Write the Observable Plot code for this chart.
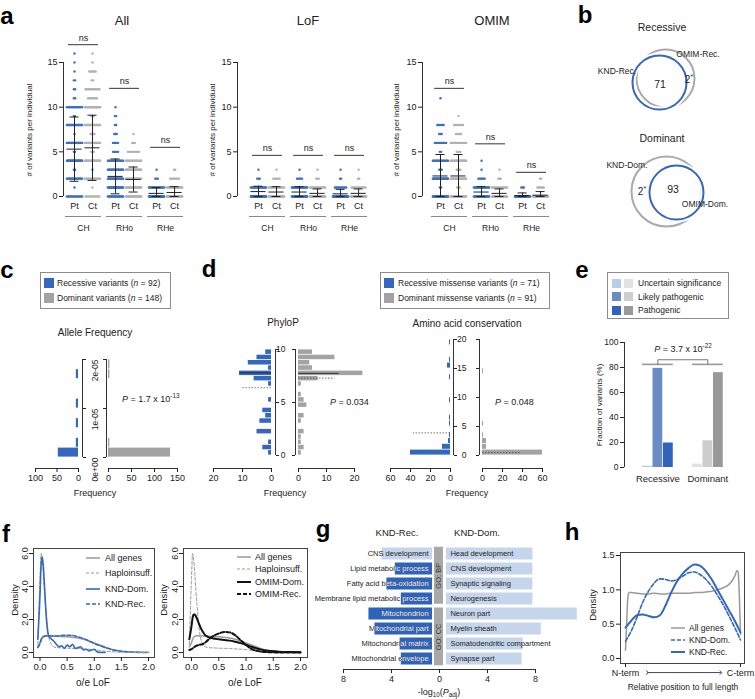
<!DOCTYPE html>
<html><head><meta charset="utf-8">
<script src="https://cdn.jsdelivr.net/npm/d3@7"></script>
<script src="https://cdn.jsdelivr.net/npm/@observablehq/plot@0.6"></script>
<style>
html,body{margin:0;padding:0;background:#fff;}
#fig{position:relative;width:755px;height:699px;overflow:hidden;background:#fff;font-family:"Liberation Sans",Arial,sans-serif;color:#222;}
sup,sub{font-size:70%;line-height:0;}
</style></head>
<body><div id="fig"></div>
<script>
// ================= DATA =================
// Panel a: counts of individuals per number of variants (index = # variants)
const aGroups = ["CH", "RHo", "RHe"];
const aSides = ["Pt", "Ct"];
const aYTicks = [0, 5, 10, 15];
const allCH_Pt = [15,1,22,2,30,2,26,1,20,2,18,2,2,2,1,1,1];
const allCH_Ct = [12,1,18,2,25,3,24,4,24,3,26,8,12,2,6,1,1];
const allRHo_Pt = [20,28,30,22,16,5,5,3,2,2,1];
const allRHo_Ct = [22,26,28,25,18,10,3,1];
const allRHe_Pt = [45,18,3,1];
const allRHe_Ct = [30,22,8,2];
const allMean = [5.3,5.45,2.25,1.9,0.35,0.45];
const allSD = [3.6,3.65,1.95,1.4,0.65,0.65];
const allNs = [17.0,12.1,5.5];

const lofCH_Pt = [40,20,3,1];
const lofCH_Ct = [35,18,6,1];
const lofRHo_Pt = [38,22,5,1];
const lofRHo_Ct = [32,16,3,1];
const lofRHe_Pt = [50,10,2,1];
const lofRHe_Ct = [30,12,2,1];
const lofMean = [0.55,0.5,0.5,0.35,0.3,0.35];
const lofSD = [0.6,0.6,0.6,0.5,0.5,0.5];
const lofNs = [4.6,4.6,4.6];

const omimCH_Pt = [30,2,30,3,18,2,10,3,6,0,0,1];
const omimCH_Ct = [28,3,28,4,25,4,14,5,8,1];
const omimRHo_Pt = [25,20,6,1,1];
const omimRHo_Ct = [28,14,3,1];
const omimRHe_Pt = [30,3];
const omimRHe_Ct = [30,6,2];
const omimMean = [2.3,2.3,0.5,0.35,0.1,0.15];
const omimSD = [2.4,2.4,0.6,0.5,0.3,0.4];
const omimNs = [12.1,5.9,2.7];

// Panel b: Venn counts
const vennRec = {shared: 71, only: 2};
const vennDom = {shared: 93, only: 2};

// Panel c: allele frequency histogram (bins of 2e-6)
const afBinW = 2e-6;
const afRec = [47,5,0,5,0,5,0,0,5,0];
const afDom = [135,3,0,0,0,0,0,0,3,3];
const afTicks = [0, 1e-5, 2e-5];
const afTickLabels = ["0e+00", "1e-05", "2e-05"];

// Panel d: PhyloP (bins of 0.5) and amino acid conservation (bins of 1)
const phyloBinW = 0.5;
const phyloRec = [1,3,1,0,5,0,4,2,3,0,1,0,0,1,6,11,1,8,5,2];
const phyloDom = [1,2,1,1,2,0,1,2,0,3,2,1,0,1,7,23,5,4,13,5];
const phyloRecStats = [7.8, 6.4];   // median, mean
const phyloDomStats = [7.75, 7.3];
const aaBinW = 1;
const aaRec = [40,8,2,1,0,1,1,0,0,1,0,0,0,1,0,3,1,0,0,1];
const aaDom = [60,4,4,1,0,1,0,0,0,0,0,0,0,0,1,0,0,0,0,0];
const aaRecMean = 3.9;
const aaDomMean = 0.5;

// Panel e
const eClasses = ["Uncertain significance", "Likely pathogenic", "Pathogenic"];
const eGroups = ["Recessive", "Dominant"];
const eRec = [1.1, 79.3, 19.6];
const eDom = [2.7, 21.4, 75.9];

// Panel f: density of o/e LoF
const fX = [-0.04,0,0.02,0.04,0.06,0.08,0.1,0.13,0.16,0.2,0.25,0.3,0.4,0.5,0.6,0.7,0.8,0.9,1.0,1.1,1.2,1.3,1.4,1.5,1.6,1.8,2.0];
const fAll = [0.35,0.6,0.8,0.92,0.98,1.0,1.01,1.01,1.0,1.0,0.99,0.98,0.97,0.95,0.92,0.88,0.8,0.7,0.58,0.45,0.33,0.22,0.14,0.08,0.05,0.02,0.01];
const fHaplo = [0.5,4.5,6.0,5.6,4.8,3.8,2.9,1.8,1.0,0.55,0.35,0.3,0.28,0.26,0.25,0.24,0.22,0.2,0.17,0.12,0.08,0.05,0.03,0.02,0.01,0,0];
const fKndRec = [0.3,0.55,0.75,0.88,0.95,0.98,1.0,1.0,1.0,1.0,1.0,1.0,1.03,1.05,1.03,0.95,0.85,0.7,0.55,0.42,0.3,0.2,0.12,0.07,0.04,0.01,0];
const fOmimDom = [0.8,1.6,2.1,2.3,2.3,2.2,2.05,1.8,1.55,1.3,1.05,0.95,0.85,0.8,0.76,0.72,0.65,0.57,0.47,0.35,0.24,0.16,0.11,0.08,0.05,0.03,0.02];
const fOmimRec = [0.15,0.2,0.25,0.3,0.35,0.4,0.42,0.45,0.48,0.5,0.6,0.75,1.0,1.15,1.25,1.22,1.05,0.75,0.45,0.22,0.1,0.05,0.02,0.01,0,0,0];
const fDomX = [-0.04,0,0.02,0.04,0.06,0.08,0.1,0.13,0.16,0.2,0.25,0.3,0.35,0.4,0.45,0.5,0.55,0.6,0.65,0.7,0.75,0.8,0.85,0.9,0.95,1.0,1.05,1.1,1.2];
const fKndDom = [0.8,3.5,5.3,5.8,5.3,4.2,3.0,1.6,1.0,0.85,0.7,0.5,0.35,0.4,0.25,0.45,0.35,0.5,0.25,0.3,0.35,0.15,0.2,0.1,0.15,0.2,0.05,0.01,0];
const fXTicks = [0, 0.5, 1, 1.5, 2];
const fYTicks = [0, 2, 4, 6];

// Panel g: GO enrichment (-log10 Padj)
const gRecTerms = ["CNS development","Lipid metabolic process","Fatty acid beta-oxidation","Membrane lipid metabolic process","Mitochondrion","Mitochondrial part","Mitochondrial matrix","Mitochondrial envelope"];
const gRecVals = [4.2, 3.1, 3.8, 2.6, 5.3, 4.8, 2.7, 2.6];
const gRecSig = [false, true, true, true, true, true, true, true];
const gDomTerms = ["Head development","CNS development","Synaptic signaling","Neurogenesis","Neuron part","Myelin sheath","Somatodendritic compartment","Synapse part"];
const gDomVals = [7.2, 7.2, 7.2, 7.2, 10.9, 7.9, 6.4, 6.3];
const gGO = ["GO: BP", "GO: CC"];

// Panel h: density along protein
const hX = [0,0.01,0.02,0.03,0.05,0.1,0.15,0.2,0.25,0.3,0.35,0.4,0.45,0.5,0.55,0.6,0.65,0.7,0.75,0.8,0.85,0.9,0.93,0.95,0.97,0.98,0.99,1.0];
const hAll = [0.12,0.5,0.88,0.96,0.96,0.95,0.94,0.94,0.95,0.94,0.94,0.95,0.95,0.95,0.95,0.96,0.96,0.97,0.98,1.0,1.03,1.08,1.14,1.2,1.28,1.25,0.9,0.35];
const hX2 = [0,0.05,0.1,0.15,0.2,0.25,0.3,0.35,0.4,0.45,0.5,0.55,0.6,0.65,0.7,0.75,0.8,0.85,0.9,0.95,1.0];
const hDom = [0.25,0.4,0.6,0.82,0.98,1.1,1.16,1.15,1.13,1.15,1.2,1.25,1.26,1.22,1.15,1.05,0.92,0.78,0.62,0.45,0.27];
const hRec = [0.45,0.55,0.63,0.64,0.62,0.6,0.63,0.78,0.97,1.13,1.24,1.32,1.37,1.35,1.27,1.15,1.0,0.85,0.7,0.55,0.38];

// ================= HELPERS =================
const FONT = '"Liberation Sans", Arial, Helvetica, sans-serif';
const BLUE = "#3467bd";
const BLUE_DOT = "#3d70c1";
const GRAY_DOT = "#b2b2b2";
const GRAY = "#a3a3a3";
const DARK = "#333";
const NS = "http://www.w3.org/2000/svg";
const fig = document.getElementById("fig");

function addPlot(opts) {
  const svg = Plot.plot(Object.assign({
    width: 755, height: 699,
    style: {background: "transparent", fontFamily: FONT, fontSize: "9px", color: "#222", overflow: "visible"}
  }, opts));
  svg.style.position = "absolute"; svg.style.left = "0px"; svg.style.top = "0px";
  svg.style.maxWidth = "none";
  fig.appendChild(svg);
  return svg;
}
function label(html, x, y, o = {}) {
  const d = document.createElement("div");
  d.innerHTML = html;
  const ax = o.align === "left" ? "0%" : o.align === "right" ? "-100%" : "-50%";
  const s = d.style;
  s.position = "absolute"; s.left = x + "px"; s.top = y + "px";
  s.fontSize = (o.size || 9) + "px"; s.lineHeight = "1"; s.whiteSpace = "nowrap";
  s.fontFamily = FONT; s.color = o.color || "#222";
  if (o.weight) s.fontWeight = o.weight;
  s.transform = `translate(${ax},-50%)` + (o.rot ? ` rotate(${o.rot}deg)` : "");
  fig.appendChild(d);
  return d;
}
function box(x, y, w, h) {
  const d = document.createElement("div");
  Object.assign(d.style, {position: "absolute", left: x + "px", top: y + "px", width: w + "px", height: h + "px", border: "1px solid #8c8c8c", boxSizing: "border-box"});
  fig.appendChild(d);
}
function swatch(x, y, s, color) {
  const d = document.createElement("div");
  Object.assign(d.style, {position: "absolute", left: x + "px", top: (y - s / 2) + "px", width: s + "px", height: s + "px", background: color});
  fig.appendChild(d);
}
function lineSwatch(x1, x2, y, color, w, dash) {
  const svg = document.createElementNS(NS, "svg");
  svg.setAttribute("width", x2 - x1); svg.setAttribute("height", 8);
  svg.style.position = "absolute"; svg.style.left = x1 + "px"; svg.style.top = (y - 4) + "px"; svg.style.overflow = "visible";
  const l = document.createElementNS(NS, "line");
  l.setAttribute("x1", 0); l.setAttribute("x2", x2 - x1); l.setAttribute("y1", 4); l.setAttribute("y2", 4);
  l.setAttribute("stroke", color); l.setAttribute("stroke-width", w);
  if (dash) l.setAttribute("stroke-dasharray", dash);
  svg.appendChild(l);
  fig.appendChild(svg);
}

// ================= PANEL A =================
const aSlots = [0, 1, 2.28, 3.28, 4.56, 5.56];
const APX = 18;
function panelA(title, counts, mean, sd, ns, axisX, pt0, titleX, yLabX) {
  const dotsPt = [], dotsCt = [];
  counts.forEach((arr, j) => {
    const target = j % 2 === 0 ? dotsPt : dotsCt;
    arr.forEach((n, v) => {
      const step = n > 1 ? Math.min(0.07, 0.85 / (n - 1)) : 0;
      for (let k = 0; k < n; k++) target.push({x: aSlots[j] + (k - (n - 1) / 2) * step, v});
    });
  });
  const stats = mean.map((m, j) => ({x: aSlots[j], m, lo: Math.max(0, m - sd[j]), hi: m + sd[j]}));
  const grp = aGroups.map((c, g) => ({c, a: aSlots[2 * g], b: aSlots[2 * g + 1], mid: (aSlots[2 * g] + aSlots[2 * g + 1]) / 2, ns: ns[g]}));
  const cats = aSlots.map((x, j) => ({x, t: aSides[j % 2]}));
  const axisSlot = (axisX - pt0) / APX;
  addPlot({
    marginLeft: axisX, marginRight: 755 - axisX - 140, marginTop: 60, marginBottom: 699 - 196,
    x: {domain: [0, 1], range: [pt0, pt0 + APX], axis: null},
    y: {domain: [0, 15], range: [196, 62], axis: null},
    marks: [
      Plot.ruleX([axisSlot], {y1: 0, y2: 15, stroke: DARK}),
      Plot.axisY({ticks: aYTicks, tickSize: 4, tickPadding: 2, label: null, fontSize: 9}),
      Plot.dot(dotsPt, {x: "x", y: "v", r: 1.2, fill: BLUE_DOT}),
      Plot.dot(dotsCt, {x: "x", y: "v", r: 1.2, fill: GRAY_DOT}),
      Plot.ruleX(stats, {x: "x", y1: "lo", y2: "hi", stroke: "#222"}),
      Plot.ruleY(stats, {y: "m", x1: d => d.x - 0.42, x2: d => d.x + 0.42, stroke: "#222"}),
      Plot.ruleY(stats, {y: "lo", x1: d => d.x - 0.25, x2: d => d.x + 0.25, stroke: "#222"}),
      Plot.ruleY(stats, {y: "hi", x1: d => d.x - 0.25, x2: d => d.x + 0.25, stroke: "#222"}),
      Plot.ruleY(grp, {y: "ns", x1: d => d.mid - 0.83, x2: d => d.mid + 0.83, stroke: "#555", strokeWidth: 1.2}),
      Plot.text(grp, {x: "mid", y: "ns", text: () => "ns", dy: -7, fontSize: 9}),
      Plot.text(cats, {x: "x", y: 0, text: "t", dy: 10, fontSize: 9}),
      Plot.ruleY(grp, {y: 0, x1: d => d.a - 0.5, x2: d => d.b + 0.5, dy: 20, stroke: "#888", strokeWidth: 1.2}),
      Plot.text(grp, {x: "mid", y: 0, text: "c", dy: 32, fontSize: 8.5})
    ]
  });
  label(title, titleX, 20, {size: 13});
  label("# of variants per individual", yLabX, 130, {size: 8, rot: -90});
}
panelA("All", [allCH_Pt, allCH_Ct, allRHo_Pt, allRHo_Ct, allRHe_Pt, allRHe_Ct], allMean, allSD, allNs, 63, 74, 122, 30);
panelA("LoF", [lofCH_Pt, lofCH_Ct, lofRHo_Pt, lofRHo_Ct, lofRHe_Pt, lofRHe_Ct], lofMean, lofSD, lofNs, 237, 258, 308, 213);
panelA("OMIM", [omimCH_Pt, omimCH_Ct, omimRHo_Pt, omimRHo_Ct, omimRHe_Pt, omimRHe_Ct], omimMean, omimSD, omimNs, 422, 440, 492, 397);

// ================= PANEL B =================
const vennLayout = [
  {cx: 665, cy: 78, r: 29, c: GRAY}, {cx: 659, cy: 82, r: 27, c: BLUE},
  {cx: 666, cy: 191, r: 35, c: GRAY}, {cx: 676, cy: 192, r: 27, c: BLUE}
];
addPlot({
  marginLeft: 0, marginRight: 0, marginTop: 0, marginBottom: 0,
  x: {domain: [0, 755], range: [0, 755], axis: null},
  y: {domain: [0, 699], range: [0, 699], axis: null},
  marks: [
    ...vennLayout.filter(d => d.c === GRAY).map(d => Plot.dot([d], {x: "cx", y: "cy", r: d.r, stroke: "#aaaaaa", strokeWidth: 2, fill: "none"})),
    ...vennLayout.filter(d => d.c === BLUE).map(d => Plot.dot([d], {x: "cx", y: "cy", r: d.r, stroke: "white", strokeWidth: 6, fill: "none"})),
    ...vennLayout.filter(d => d.c === BLUE).map(d => Plot.dot([d], {x: "cx", y: "cy", r: d.r, stroke: BLUE, strokeWidth: 2, fill: "none"}))
  ]
});
label("Recessive", 662, 27, {size: 10.5});
label("OMIM-Rec.", 698, 54, {size: 8.5});
label("KND-Rec.", 617, 71, {size: 8.5});
label(String(vennRec.shared), 660, 84, {size: 10.5});
label(vennRec.only + "<sup>*</sup>", 689, 80, {size: 10});
label("Dominant", 662, 138, {size: 10.5});
label("KND-Dom.", 627, 165, {size: 8.5});
label(vennDom.only + "<sup>*</sup>", 642, 192, {size: 10});
label(String(vennDom.shared), 673, 189, {size: 10.5});
label("OMIM-Dom.", 705, 204, {size: 8.5});

// ================= PANELS C & D (mirrored histograms) =================
function mirror(o) {
  const bins = arr => arr.map((n, i) => ({lo: i * o.binW, hi: (i + 1) * o.binW, n})).filter(d => d.n > 0);
  const y0 = o.ticks[0], yTop = o.ticks[o.ticks.length - 1];
  const lineMarks = (lines) => lines.map(l => Plot.ruleY([l.y], {x1: 0, x2: l.len, stroke: l.color, strokeWidth: l.w, strokeDasharray: l.dash}));
  addPlot({
    marginLeft: o.L.end - 5, marginRight: 755 - o.L.axis, marginTop: o.yRange[1] - 5, marginBottom: 699 - o.bottomY,
    x: {domain: [0, o.L.max], range: [o.L.zero, o.L.end], axis: null},
    y: {domain: o.yDomain, range: o.yRange, axis: null},
    marks: [
      Plot.rect(bins(o.rec), {x1: 0, x2: "n", y1: "lo", y2: "hi", fill: BLUE, insetTop: 0.4, insetBottom: 0.4}),
      ...lineMarks(o.recLines || []),
      Plot.ruleX([0], {dx: o.L.axis - o.L.zero, y1: y0, y2: yTop, stroke: DARK}),
      Plot.axisY({anchor: "right", ticks: o.ticks, tickSize: 3, tickFormat: () => "", label: null}),
      Plot.text(o.ticks, {y: d => d, text: (d, i) => o.tickLabels[i], frameAnchor: "right", dx: o.labDx, rotate: o.rot, fontSize: 8.5}),
      Plot.ruleY([o.yDomain[0]], {x1: 0, x2: o.L.max, dy: o.bottomY - o.yRange[0], stroke: DARK}),
      Plot.axisX({anchor: "bottom", ticks: o.L.ticks, tickSize: 4, tickPadding: 2, label: null, fontSize: 9})
    ]
  });
  addPlot({
    marginLeft: o.R.axis, marginRight: 755 - o.R.end - 5, marginTop: o.yRange[1] - 5, marginBottom: 699 - o.bottomY,
    x: {domain: [0, o.R.max], range: [o.R.zero, o.R.end], axis: null},
    y: {domain: o.yDomain, range: o.yRange, axis: null},
    marks: [
      Plot.rect(bins(o.dom), {x1: 0, x2: "n", y1: "lo", y2: "hi", fill: GRAY, insetTop: 0.4, insetBottom: 0.4}),
      ...lineMarks(o.domLines || []),
      Plot.ruleX([0], {dx: o.R.axis - o.R.zero, y1: y0, y2: yTop, stroke: DARK}),
      Plot.axisY({anchor: "left", ticks: o.ticks, tickSize: 3, tickFormat: () => "", label: null}),
      Plot.ruleY([o.yDomain[0]], {x1: 0, x2: o.R.max, dy: o.bottomY - o.yRange[0], stroke: DARK}),
      Plot.axisX({anchor: "bottom", ticks: o.R.ticks, tickSize: 4, tickPadding: 2, label: null, fontSize: 9})
    ]
  });
}
// c: allele frequency
mirror({
  yDomain: [0, 2e-5], yRange: [457, 359], binW: afBinW, rec: afRec, dom: afDom,
  ticks: afTicks, tickLabels: afTickLabels, rot: -90, labDx: 13, bottomY: 468,
  L: {max: 100, zero: 78, end: 35, axis: 82, ticks: [0, 50, 100]},
  R: {max: 150, zero: 108, end: 177, axis: 106, ticks: [0, 50, 100, 150]}
});
// d: PhyloP
mirror({
  yDomain: [0, 10], yRange: [455, 349], binW: phyloBinW, rec: phyloRec, dom: phyloDom,
  ticks: [0, 5, 10], tickLabels: ["0", "5", "10"], rot: 0, labDx: 10, bottomY: 468,
  L: {max: 20, zero: 271, end: 213, axis: 275, ticks: [0, 10, 20]},
  R: {max: 20, zero: 298, end: 354, axis: 295, ticks: [0, 10, 20]},
  recLines: [{y: phyloRecStats[0], len: 11, color: "#222", w: 0.9}, {y: phyloRecStats[1], len: 10, color: "#777", w: 0.9, dash: "1.5,1.5"}],
  domLines: [{y: phyloDomStats[0], len: 14.5, color: "#222", w: 0.9}, {y: phyloDomStats[1], len: 13, color: "#555", w: 0.9, dash: "1.5,1.5"}]
});
// d: amino acid conservation
mirror({
  yDomain: [0, 20], yRange: [455, 339], binW: aaBinW, rec: aaRec, dom: aaDom,
  ticks: [0, 5, 10, 15, 20], tickLabels: ["0", "5", "10", "15", "20"], rot: 0, labDx: 13, bottomY: 468,
  L: {max: 60, zero: 450, end: 390, axis: 453, ticks: [0, 20, 40, 60]},
  R: {max: 60, zero: 482, end: 542, axis: 479, ticks: [0, 20, 40, 60]},
  recLines: [{y: aaRecMean, len: 37, color: "#666", w: 0.9, dash: "1.5,1.5"}],
  domLines: [{y: aaDomMean, len: 38, color: "#555", w: 0.9, dash: "1.5,1.5"}]
});
// legends & texts c, d
box(40, 272, 131, 37);
swatch(44, 283, 10, BLUE); label("Recessive variants (<i>n</i> = 92)", 57, 283, {align: "left", size: 8.5});
swatch(44, 298, 10, GRAY); label("Dominant variants (<i>n</i> = 148)", 57, 298, {align: "left", size: 8.5});
label("Allele Frequency", 95, 333, {size: 10});
label("<i>P</i> = 1.7 x 10<sup>-13</sup>", 122, 399, {align: "left", size: 9});
label("Frequency", 95, 493, {size: 9});
box(380, 272, 170, 37);
swatch(384, 283, 10, BLUE); label("Recessive missense variants (<i>n</i> = 71)", 398, 283, {align: "left", size: 8.5});
swatch(384, 298, 10, GRAY); label("Dominant missense variants (<i>n</i> = 91)", 398, 298, {align: "left", size: 8.5});
label("PhyloP", 283, 323, {size: 10});
label("Amino acid conservation", 467, 324, {size: 10});
label("<i>P</i> = 0.034", 330, 402, {align: "left", size: 9});
label("<i>P</i> = 0.048", 495, 402, {align: "left", size: 9});
label("Frequency", 285, 493, {size: 9});
label("Frequency", 467, 493, {size: 9});

// ================= PANEL E =================
const eBlue = ["#b9cde8", "#6a8cc3", "#2f63bd"];
const eGray = ["#e2e2e2", "#cdcdcd", "#999999"];
const eStep = 4.76;
const eAxis = (624 - 642) / 10.5;
const eMarks = [];
[eRec, eDom].forEach((vals, g) => {
  vals.forEach((v, i) => {
    const x1 = g * eStep + i;
    eMarks.push(Plot.rect([{x1, x2: x1 + 0.93, v}], {x1: "x1", x2: "x2", y1: 0, y2: "v", fill: (g === 0 ? eBlue : eGray)[i]}));
  });
});
const eGroupRows = eGroups.map((name, g) => ({name, a: g * eStep, b: g * eStep + 2.93, mid: g * eStep + 1.46}));
addPlot({
  marginLeft: 624, marginRight: 755 - 730, marginTop: 337, marginBottom: 699 - 467,
  x: {domain: [0, 1], range: [642, 652.5], axis: null},
  y: {domain: [0, 100], range: [467, 342], axis: null},
  marks: [
    Plot.ruleX([eAxis], {y1: 0, y2: 100, stroke: DARK}),
    Plot.axisY({ticks: [0, 20, 40, 60, 80, 100], tickSize: 4, tickPadding: 2, label: null, fontSize: 8.5}),
    ...eMarks,
    Plot.ruleY(eGroupRows, {y: 82.5, x1: "a", x2: "b", stroke: "#999", strokeWidth: 1.6}),
    Plot.line([{x: eGroupRows[0].mid, y: 82.5}, {x: eGroupRows[0].mid, y: 86.2}, {x: eGroupRows[1].mid, y: 86.2}, {x: eGroupRows[1].mid, y: 82.5}], {x: "x", y: "y", stroke: "#777", strokeWidth: 1}),
    Plot.text(eGroupRows, {x: "mid", y: 0, text: "name", dy: 11, fontSize: 9.5})
  ]
});
label("<i>P</i> = 3.7 x 10<sup>-22</sup>", 683, 349, {size: 9});
label("Fraction of variants (%)", 600, 405, {size: 8, rot: -90});
box(607, 272, 122, 47);
eClasses.forEach((c, i) => {
  const y = 283 + i * 13.5;
  swatch(612, y, 9, eBlue[i]); swatch(624, y, 9, eGray[i]);
  label(c, 638, y, {align: "left", size: 8.5});
});

// ================= PANEL F =================
function fPanel(left, right, zero, two, curves) {
  addPlot({
    marginLeft: left, marginRight: 755 - right, marginTop: 548, marginBottom: 699 - 657,
    x: {domain: [0, 2], range: [zero, two], axis: null},
    y: {domain: [0, 6], range: [652, 553], axis: null},
    marks: [
      Plot.frame({stroke: "#444"}),
      Plot.axisX({ticks: fXTicks, tickFormat: d => d.toFixed(1), tickSize: 4, tickPadding: 2, label: null, fontSize: 9.5}),
      Plot.axisY({ticks: fYTicks, tickRotate: -90, tickSize: 4, tickPadding: 2, label: null, fontSize: 9}),
      ...curves.map(c => Plot.line(c.xs.map((x, i) => ({x, y: c.ys[i]})), {x: "x", y: "y", stroke: c.color, strokeWidth: c.w, strokeDasharray: c.dash, curve: "monotone-x"}))
    ]
  });
}
fPanel(33, 154, 39.5, 148, [
  {xs: fX, ys: fAll, color: "#9a9a9a", w: 1.5},
  {xs: fX, ys: fKndRec, color: BLUE, w: 1.6, dash: "4,2"},
  {xs: fX, ys: fHaplo, color: "#9a9a9a", w: 1, dash: "3,2"},
  {xs: fDomX, ys: fKndDom, color: BLUE, w: 1.6}
]);
fPanel(183, 307, 191, 300, [
  {xs: fX, ys: fAll, color: "#9a9a9a", w: 1.5},
  {xs: fX, ys: fHaplo, color: "#9a9a9a", w: 1, dash: "3,2"},
  {xs: fX, ys: fOmimRec, color: "#111", w: 2, dash: "4,2"},
  {xs: fX, ys: fOmimDom, color: "#111", w: 2}
]);
label("Density", 15, 600, {size: 9.5, rot: -90});
label("Density", 164, 600, {size: 9.5, rot: -90});
label("o/e LoF", 93, 683, {size: 10});
label("o/e LoF", 245, 683, {size: 10});
[["All genes", "#9a9a9a", 1.5, null], ["Haploinsuff.", "#9a9a9a", 1, "3,2"], ["KND-Dom.", BLUE, 1.6, null], ["KND-Rec.", BLUE, 1.6, "4,2"]].forEach((e, i) => {
  const y = 558 + i * 15.3;
  lineSwatch(86, 100, y, e[1], e[2], e[3]);
  label(e[0], 105, y, {align: "left", size: 9});
});
[["All genes", "#9a9a9a", 1.5, null], ["Haploinsuff.", "#9a9a9a", 1, "3,2"], ["OMIM-Dom.", "#111", 2, null], ["OMIM-Rec.", "#111", 2, "4,2"]].forEach((e, i) => {
  const y = 557 + i * 12.4;
  lineSwatch(237, 251, y, e[1], e[2], e[3]);
  label(e[0], 255, y, {align: "left", size: 9});
});

// ================= PANEL G =================
const GAP = 0.58;
const DARKBAR = "#2f62bb", LIGHTBAR = "#c5d5eb";
const gLeft = gRecTerms.map((t, i) => ({t, i, v: gRecVals[i], sig: gRecSig[i]}));
const gRight = gDomTerms.map((t, i) => ({t, i, v: gDomVals[i]}));
const gBlocks = gGO.map((t, k) => ({t, y1: k * 4 + (k ? 0.1 : 0.05), y2: k * 4 + (k ? 3.95 : 3.85)}));
const gSvg = addPlot({
  marginLeft: 330, marginRight: 755 - 590, marginTop: 540, marginBottom: 699 - 669,
  x: {domain: [0, 1], range: [439, 451], axis: null},
  y: {domain: [0, 8], range: [546, 666], axis: null},
  marks: [
    Plot.rect(gLeft.filter(d => !d.sig), {x1: -GAP, x2: d => -GAP - d.v, y1: d => d.i + 0.1, y2: d => d.i + 0.9, fill: LIGHTBAR}),
    Plot.rect(gLeft.filter(d => d.sig), {x1: -GAP, x2: d => -GAP - d.v, y1: d => d.i + 0.1, y2: d => d.i + 0.9, fill: DARKBAR}),
    Plot.rect(gRight, {x1: GAP, x2: d => GAP + d.v, y1: d => d.i + 0.1, y2: d => d.i + 0.9, fill: LIGHTBAR}),
    Plot.rect(gBlocks, {x1: -0.42, x2: 0.33, y1: "y1", y2: "y2", fill: "#a8a8a8"}),
    Plot.text(gBlocks, {x: -0.045, y: d => (d.y1 + d.y2) / 2, text: "t", rotate: -90, fontSize: 7.5, fill: "#333"}),
    Plot.text(gLeft, {x: -GAP - 0.33, y: d => d.i + 0.5, text: "t", textAnchor: "end", fontSize: 7.5, fill: "#222"}),
    Plot.text(gLeft, {x: -GAP - 0.33, y: d => d.i + 0.5, text: "t", textAnchor: "end", fontSize: 7.5, fill: "#fffffe"}),
    Plot.text(gRight, {x: GAP + 0.33, y: d => d.i + 0.5, text: "t", textAnchor: "start", fontSize: 7.5, fill: "#222"}),
    Plot.ruleY([8], {x1: -8, x2: 8, dy: 3, stroke: DARK}),
    Plot.axisX({ticks: [-8, -4, 0, 4, 8], tickFormat: d => String(Math.abs(d)), tickSize: 4, tickPadding: 2, label: null, fontSize: 9})
  ]
});
(function clipWhite() {
  const darkG = gSvg.querySelector(`g[fill="${DARKBAR}"]`);
  const whiteG = gSvg.querySelector('g[fill="#fffffe"]');
  if (!darkG || !whiteG) return;
  const defs = document.createElementNS(NS, "defs");
  const cp = document.createElementNS(NS, "clipPath");
  cp.setAttribute("id", "gclipDark");
  const t = darkG.getAttribute("transform");
  darkG.querySelectorAll("rect").forEach(r => {
    const c = r.cloneNode(false);
    if (t) c.setAttribute("transform", t);
    cp.appendChild(c);
  });
  defs.appendChild(cp);
  gSvg.insertBefore(defs, gSvg.firstChild);
  const wrap = document.createElementNS(NS, "g");
  wrap.setAttribute("clip-path", "url(#gclipDark)");
  whiteG.parentNode.insertBefore(wrap, whiteG);
  wrap.appendChild(whiteG);
})();
label("KND-Rec.", 397, 533, {size: 9.5});
label("KND-Dom.", 477, 533, {size: 9.5});
label("-log<sub>10</sub>(<i>P</i><sub>adj</sub>)", 439, 692, {size: 9});

// ================= PANEL H =================
addPlot({
  marginLeft: 620, marginRight: 755 - 744, marginTop: 552, marginBottom: 699 - 663,
  x: {domain: [0, 1], range: [625, 740], axis: null},
  y: {domain: [0, 1.5], range: [658, 555], axis: null},
  marks: [
    Plot.frame({stroke: "#444"}),
    Plot.axisY({ticks: [0, 0.5, 1, 1.5], tickFormat: d => d.toFixed(1), tickSize: 4, tickPadding: 2, label: null, fontSize: 9}),
    Plot.axisX({ticks: [0, 1], tickFormat: d => d === 0 ? "N-term" : "C-term", tickSize: 4, tickPadding: 2, label: null, fontSize: 9}),
    Plot.link([{a: 0.19, b: 0.83}], {x1: "a", x2: "b", y1: -0.205, y2: -0.205, stroke: "#333", markerStart: "arrow", markerEnd: "arrow", strokeWidth: 0.9}),
    Plot.line(hX.map((x, i) => ({x, y: hAll[i]})), {x: "x", y: "y", stroke: "#9a9a9a", strokeWidth: 1.5, curve: "monotone-x"}),
    Plot.line(hX2.map((x, i) => ({x, y: hDom[i]})), {x: "x", y: "y", stroke: BLUE, strokeWidth: 1.6, strokeDasharray: "4,2", curve: "monotone-x"}),
    Plot.line(hX2.map((x, i) => ({x, y: hRec[i]})), {x: "x", y: "y", stroke: BLUE, strokeWidth: 2, curve: "monotone-x"})
  ]
});
label("Density", 593, 605, {size: 9.5, rot: -90});
label("Relative position to full length", 683, 687, {size: 8.5});
[["All genes", "#9a9a9a", 1.5, null], ["KND-Dom.", BLUE, 1.6, "4,2"], ["KND-Rec.", BLUE, 2, null]].forEach((e, i) => {
  const y = 628 + i * 12;
  lineSwatch(671, 685, y, e[1], e[2], e[3]);
  label(e[0], 689, y, {align: "left", size: 8.5});
});

// ================= PANEL LETTERS =================
[["a", 7, 16], ["b", 585, 15], ["c", 7, 270], ["d", 209, 269], ["e", 582, 270], ["f", 6, 534], ["g", 323, 529], ["h", 572, 532]]
  .forEach(([t, x, y]) => label(t, x, y, {size: 24, weight: "bold", color: "#000"}));
</script>
</body></html>
